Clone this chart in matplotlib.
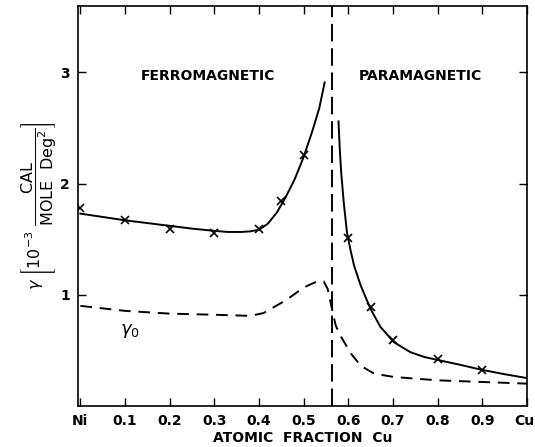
import numpy as np
import matplotlib
matplotlib.use("Agg")
import matplotlib.pyplot as plt
import matplotlib.transforms as mtransforms

# measured gamma (crosses)
ferro_x = [0.0, 0.1, 0.2, 0.3, 0.4, 0.45, 0.5]
ferro_y = [1.78, 1.67, 1.595, 1.56, 1.59, 1.84, 2.26]
para_x = [0.6, 0.65, 0.7, 0.8, 0.9]
para_y = [1.51, 0.89, 0.59, 0.42, 0.325]

# drawn curves
ferro_curve_x = [0.0, 0.05, 0.1, 0.15, 0.2, 0.25, 0.3, 0.33, 0.36, 0.38, 0.4, 0.42,
                 0.44, 0.46, 0.48, 0.5, 0.52, 0.535, 0.547]
ferro_curve_y = [1.73, 1.70, 1.67, 1.645, 1.62, 1.595, 1.575, 1.565, 1.565, 1.57, 1.585,
                 1.64, 1.74, 1.88, 2.04, 2.24, 2.48, 2.68, 2.91]
para_curve_x = [0.578, 0.581, 0.584, 0.59, 0.597, 0.605, 0.613, 0.628, 0.65, 0.672,
                0.702, 0.739, 0.77, 0.798, 0.85, 0.898, 0.95, 1.0]
para_curve_y = [2.56, 2.30, 2.10, 1.82, 1.56, 1.40, 1.26, 1.08, 0.87, 0.71,
                0.573, 0.483, 0.44, 0.415, 0.37, 0.325, 0.285, 0.25]
gamma0_x = [0.0, 0.1, 0.2, 0.3, 0.38, 0.41, 0.46, 0.5, 0.53, 0.545, 0.554, 0.563,
            0.572, 0.584, 0.606, 0.628, 0.658, 0.702, 0.8, 0.9, 1.0]
gamma0_y = [0.90, 0.855, 0.83, 0.82, 0.81, 0.835, 0.95, 1.065, 1.12, 1.12, 1.05, 0.88,
            0.72, 0.62, 0.47, 0.36, 0.29, 0.26, 0.23, 0.215, 0.20]
curie_x = 0.563

xticks = [0.0, 0.1, 0.2, 0.3, 0.4, 0.5, 0.6, 0.7, 0.8, 0.9, 1.0]
xticklabels = ["Ni", "0.1", "0.2", "0.3", "0.4", "0.5", "0.6", "0.7", "0.8", "0.9", "Cu"]
yticks = [1, 2, 3]

fig = plt.figure(figsize=(5.35, 4.47), dpi=100)
ax = fig.add_axes([0.146, 0.092, 0.839, 0.895])

ax.plot(ferro_curve_x, ferro_curve_y, color="black", linewidth=1.4)
ax.plot(para_curve_x, para_curve_y, color="black", linewidth=1.4)
ax.plot(gamma0_x, gamma0_y, color="black", linewidth=1.4, linestyle=(0, (6, 4)))
ax.axvline(curie_x, color="black", linewidth=1.4, linestyle=(0, (9, 3.5)))

ax.plot(ferro_x, ferro_y, linestyle="none", marker="x", color="black", markersize=6, mew=1.2)
ax.plot(para_x, para_y, linestyle="none", marker="x", color="black", markersize=6, mew=1.2)

ax.text(0.285, 2.97, "FERROMAGNETIC", ha="center", va="center", fontsize=10, fontweight="semibold")
ax.text(0.761, 2.97, "PARAMAGNETIC", ha="center", va="center", fontsize=10, fontweight="semibold")
ax.text(0.11, 0.67, r"$\gamma_0$", ha="center", va="center", fontsize=13)

ax.set_xlim(-0.005, 0.995)
ax.set_ylim(0, 3.6)
ax.set_xticks(xticks)
ax.set_xticklabels(xticklabels, fontsize=10, fontweight="semibold")
ax.set_yticks(yticks)
ax.set_yticklabels([str(v) for v in yticks], fontsize=10, fontweight="semibold")
ax.tick_params(direction="in", length=6, width=1, top=True, right=True, pad=6)
for s in ax.spines.values():
    s.set_linewidth(1.2)

# keep "Cu" inside the figure edge
cu = ax.get_xticklabels()[-1]
cu.set_horizontalalignment("right")
cu.set_transform(cu.get_transform() + mtransforms.ScaledTranslation(7 / 100, 0, fig.dpi_scale_trans))

ax.set_xlabel("ATOMIC  FRACTION  Cu", fontsize=10, fontweight="semibold", labelpad=2)
ax.set_ylabel(r"$\gamma\ \left[10^{-3}\ \dfrac{\mathrm{CAL}}{\mathrm{MOLE\ \ Deg^2}}\right]$",
              fontsize=11.5)
ax.yaxis.set_label_coords(-0.045, 0.5)

fig.savefig("out.png", dpi=100)
